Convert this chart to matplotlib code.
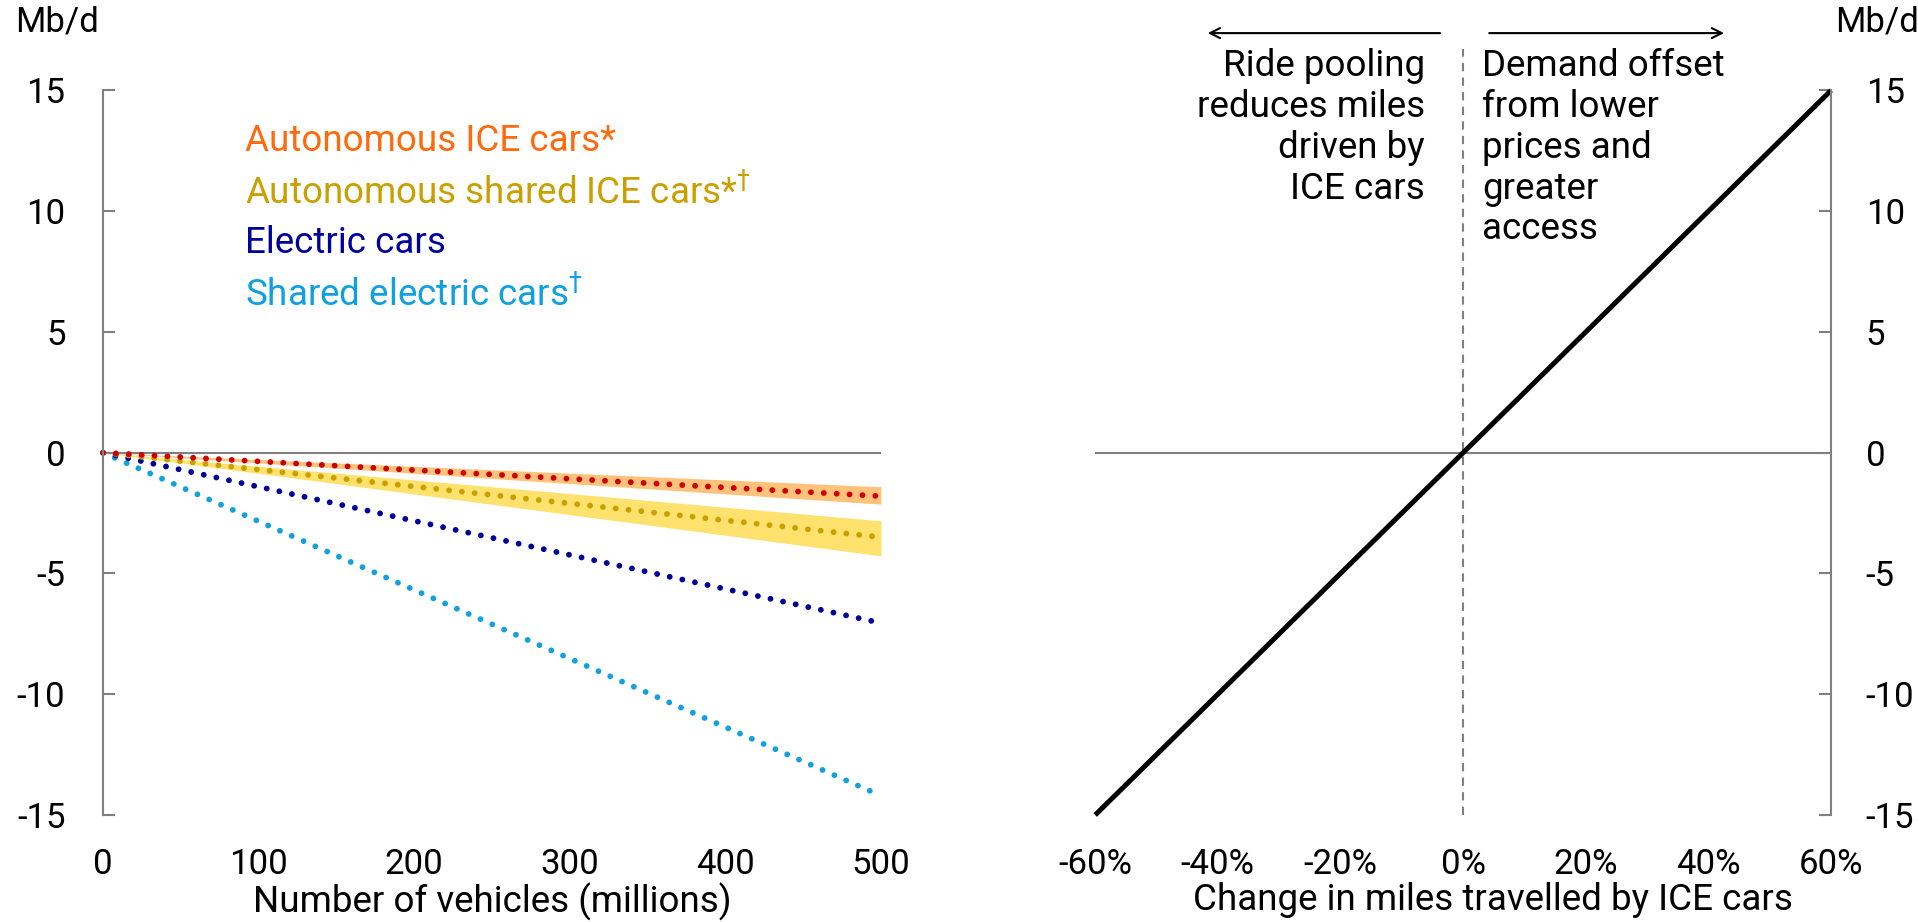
import numpy as np
import matplotlib.pyplot as plt
from matplotlib.ticker import PercentFormatter

plt.rcParams['font.family'] = ['Roboto', 'DejaVu Sans']
plt.rcParams['axes.unicode_minus'] = False

# data: left panel, oil demand change (Mb/d) vs vehicles (millions)
vehicles = [0, 500]
auto_ice = [0, -1.8]
auto_ice_lo = [0, -2.13]
auto_ice_hi = [0, -1.41]
auto_shared = [0, -3.5]
auto_shared_lo = [0, -4.27]
auto_shared_hi = [0, -2.82]
electric = [0, -7.05]
shared_electric = [0, -14.2]

# right panel: change in miles travelled vs demand
miles_change = [-0.6, 0.6]
demand = [-15, 15]

legend_labels = ['Autonomous ICE cars*', 'Autonomous shared ICE cars*$^{\\dagger}$',
                 'Electric cars', 'Shared electric cars$^{\\dagger}$']
legend_colors = ['#ff6a0d', '#c9a000', '#00009a', '#10a0e0']

grey = '#808080'
fs = 25
fs_txt = 26.5
dots = (0, (0.01, 2.2))

fig = plt.figure(figsize=(19.18, 9.22), dpi=100)
ax1 = fig.add_axes([0.0537, 0.116, 0.4056, 0.786])
ax2 = fig.add_axes([0.571, 0.116, 0.3837, 0.786])

# left panel
ax1.fill_between(vehicles, auto_shared_lo, auto_shared_hi, color='#ffe16e', lw=0)
ax1.fill_between(vehicles, auto_ice_lo, auto_ice_hi, color='#ffc27a', lw=0)
ax1.axhline(0, color=grey, lw=1.5, zorder=1)
ax1.plot(vehicles, shared_electric, color='#12a0e0', lw=4.2, ls=dots, dash_capstyle='round', clip_on=False)
ax1.plot(vehicles, electric, color='#00009a', lw=4.2, ls=dots, dash_capstyle='round', clip_on=False)
ax1.plot(vehicles, auto_shared, color='#c9a000', lw=4.2, ls=dots, dash_capstyle='round', clip_on=False)
ax1.plot(vehicles, auto_ice, color='#cc0000', lw=4.2, ls=dots, dash_capstyle='round', clip_on=False)
ax1.set_xlim(0, 500)
ax1.set_ylim(-15, 15)
ax1.set_yticks(range(-15, 16, 5))
ax1.set_xticks(range(0, 501, 100))
for s in ['top', 'right', 'bottom']:
    ax1.spines[s].set_visible(False)
ax1.spines['left'].set_color(grey)
ax1.spines['left'].set_linewidth(1.5)
ax1.tick_params(axis='y', direction='in', length=8.5, width=1.5, color=grey, pad=27, labelsize=fs)
ax1.tick_params(axis='x', length=0, pad=24, labelsize=fs)
ax1.set_xlabel('Number of vehicles (millions)', fontsize=fs_txt)
ax1.xaxis.set_label_coords(0.5, -0.093)
fig.text(15 / 1918, 1 - 22 / 922, 'Mb/d', fontsize=fs, ha='left', va='center')

for i, (lab, c) in enumerate(zip(legend_labels, legend_colors)):
    ax1.text(0.182, 0.93 - i * 0.0705, lab, color=c, fontsize=fs_txt, transform=ax1.transAxes,
             ha='left', va='center')

# right panel
ax2.axhline(0, color=grey, lw=1.5, zorder=1)
ax2.axvline(0, ymin=0, ymax=1.057, color=grey, lw=1.5, ls=(0, (4, 3)), clip_on=False)
ax2.plot(miles_change, demand, color='black', lw=3.6, solid_capstyle='butt', clip_on=False)
ax2.set_xlim(-0.6, 0.6)
ax2.set_ylim(-15, 15)
ax2.set_xticks(np.arange(-0.6, 0.61, 0.2))
ax2.set_yticks(range(-15, 16, 5))
ax2.xaxis.set_major_formatter(PercentFormatter(1.0, decimals=0))
for s in ['top', 'left', 'bottom']:
    ax2.spines[s].set_visible(False)
ax2.spines['right'].set_color(grey)
ax2.spines['right'].set_linewidth(1.5)
ax2.yaxis.tick_right()
ax2.tick_params(axis='y', direction='in', length=8.5, width=1.5, color=grey, pad=25, labelsize=fs)
ax2.tick_params(axis='x', length=0, pad=24, labelsize=fs)
ax2.set_xlabel('Change in miles travelled by ICE cars', fontsize=fs_txt)
ax2.xaxis.set_label_coords(0.54, -0.093)
fig.text(1877 / 1918, 1 - 22 / 922, 'Mb/d', fontsize=fs, ha='center', va='center')

ax2.text(-0.062, 1.058, 'Ride pooling\nreduces miles\ndriven by\nICE cars', fontsize=fs_txt,
         ha='right', va='top', linespacing=1.17, transform=ax2.get_xaxis_transform())
ax2.text(0.031, 1.058, 'Demand offset\nfrom lower\nprices and\ngreater\naccess', fontsize=fs_txt,
         ha='left', va='top', linespacing=1.17, transform=ax2.get_xaxis_transform())
ax2.annotate('', xy=(-0.421, 1.079), xytext=(-0.033, 1.079), xycoords=ax2.get_xaxis_transform(),
             arrowprops=dict(arrowstyle='->', color='black', lw=1.5, mutation_scale=18))
ax2.annotate('', xy=(0.43, 1.079), xytext=(0.038, 1.079), xycoords=ax2.get_xaxis_transform(),
             arrowprops=dict(arrowstyle='->', color='black', lw=1.5, mutation_scale=18))

fig.savefig('out.png', dpi=100)
